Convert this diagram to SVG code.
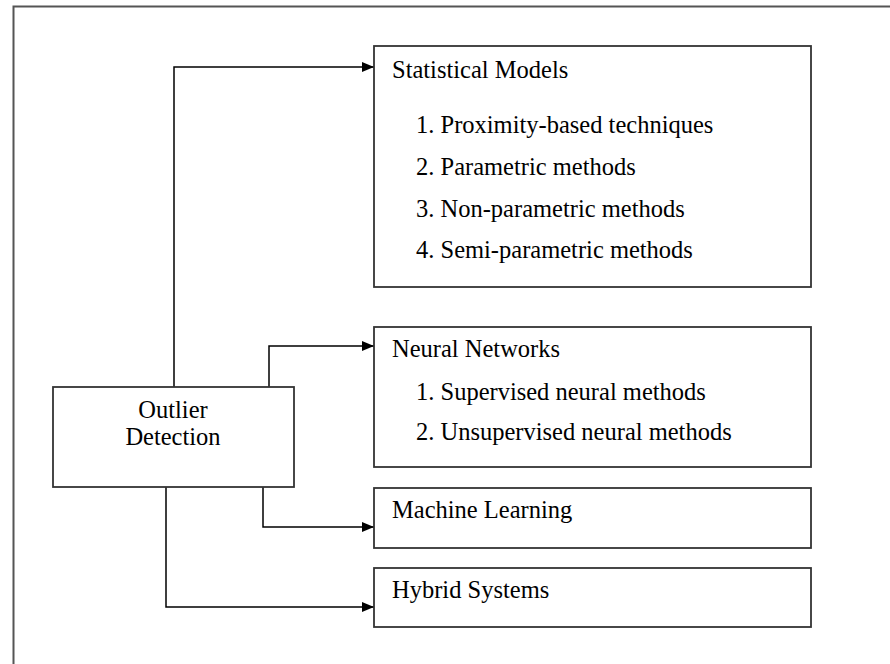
<svg xmlns="http://www.w3.org/2000/svg" width="890" height="664" viewBox="0 0 890 664">
  <defs>
    <marker id="arrow" markerWidth="12" markerHeight="10" refX="12" refY="5" orient="auto" markerUnits="userSpaceOnUse">
      <path d="M0,0 L12,5 L0,10 Z" fill="#000"/>
    </marker>
    <style>
      .frame { fill: none; stroke: #555; stroke-width: 2; }
      .box { fill: #fff; stroke: #333; stroke-width: 1.8; }
      .conn { fill: none; stroke: #000; stroke-width: 1.5; marker-end: url(#arrow); }
      .t { font-family: "Liberation Serif", "Times New Roman", serif; font-size: 24.5px; fill: #000; }
      .c { text-anchor: middle; }
    </style>
  </defs>

  <rect width="890" height="664" fill="#fff"/>
  <!-- outer frame, open to the right and bottom -->
  <path class="frame" d="M13.5,700 V6.5 H900"/>

  <g id="connectors">
    <path class="conn" d="M174,387 V67 H374"/>
    <path class="conn" d="M269,387 V346 H374"/>
    <path class="conn" d="M263,487 V527 H374"/>
    <path class="conn" d="M166,487 V607 H374"/>
  </g>

  <g id="outlier-detection">
    <rect class="box" x="53" y="387" width="241" height="100"/>
    <text class="t c" x="173" y="418">Outlier</text>
    <text class="t c" x="173" y="445">Detection</text>
  </g>

  <g id="statistical-models">
    <rect class="box" x="374" y="46" width="437" height="241"/>
    <text class="t" x="392" y="78">Statistical Models</text>
    <text class="t" x="416" y="133">1. Proximity-based techniques</text>
    <text class="t" x="416" y="175">2. Parametric methods</text>
    <text class="t" x="416" y="217">3. Non-parametric methods</text>
    <text class="t" x="416" y="258">4. Semi-parametric methods</text>
  </g>

  <g id="neural-networks">
    <rect class="box" x="374" y="327" width="437" height="140"/>
    <text class="t" x="392" y="357">Neural Networks</text>
    <text class="t" x="416" y="400">1. Supervised neural methods</text>
    <text class="t" x="416" y="440">2. Unsupervised neural methods</text>
  </g>

  <g id="machine-learning">
    <rect class="box" x="374" y="488" width="437" height="60"/>
    <text class="t" x="392" y="518">Machine Learning</text>
  </g>

  <g id="hybrid-systems">
    <rect class="box" x="374" y="568" width="437" height="59"/>
    <text class="t" x="392" y="598">Hybrid Systems</text>
  </g>
</svg>
